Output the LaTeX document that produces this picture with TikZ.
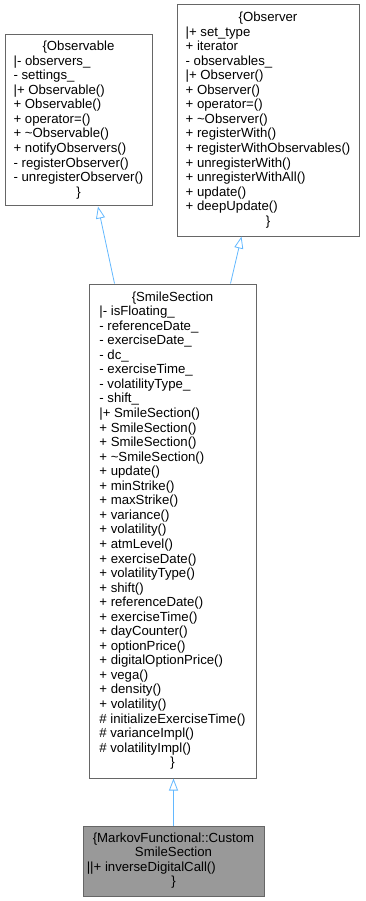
\documentclass[tikz,border=0pt]{standalone}
\usepackage{fontspec}
\setmainfont{Liberation Sans}
\usetikzlibrary{arrows.meta, positioning}
\definecolor{boxgray}{HTML}{666666}
\definecolor{basefill}{HTML}{999999}
\definecolor{linkblue}{HTML}{63B8FF}
\newcommand{\ctr}[1]{\multicolumn{1}{c}{#1}}

\begin{document}
\begin{tikzpicture}[
  x=1pt, y=-1pt,
  every node/.style={font=\fontsize{13.2}{14.55}\selectfont},
  cls/.style={draw=boxgray, fill=white, line width=1pt, inner sep=0pt},
  base/.style={cls, fill=basefill},
  arrow/.style={-{Triangle[open, length=12pt, width=9pt]}, color=linkblue, line width=0.8pt}
]
  \useasboundingbox (0,0) rectangle (365,901);

  % Basisklassen
  \node[cls, minimum width=147pt, minimum height=171pt] (observable) at (78.5,120.5) {\begin{tabular}{@{}l@{}}
    \ctr{\{Observable}\\
    |- observers\_\\
    - settings\_\\
    |+ Observable()\\
    + Observable()\\
    + operator=()\\
    + \textasciitilde Observable()\\
    + notifyObservers()\\
    - registerObserver()\\
    - unregisterObserver()\\
    \ctr{\}}
  \end{tabular}};
  \node[cls, minimum width=182pt, minimum height=231pt] (observer) at (268,120.5) {\begin{tabular}{@{}l@{}}
    \ctr{\{Observer}\\
    |+ set\_type\\
    + iterator\\
    - observables\_\\
    |+ Observer()\\
    + Observer()\\
    + operator=()\\
    + \textasciitilde Observer()\\
    + registerWith()\\
    + registerWithObservables()\\
    + unregisterWith()\\
    + unregisterWithAll()\\
    + update()\\
    + deepUpdate()\\
    \ctr{\}}
  \end{tabular}};

  % SmileSection
  \node[cls, minimum width=167pt, minimum height=494pt] (smile) at (172.5,531) {\begin{tabular}{@{}l@{}}
    \ctr{\{SmileSection}\\
    |- isFloating\_\\
    - referenceDate\_\\
    - exerciseDate\_\\
    - dc\_\\
    - exerciseTime\_\\
    - volatilityType\_\\
    - shift\_\\
    |+ SmileSection()\\
    + SmileSection()\\
    + SmileSection()\\
    + \textasciitilde SmileSection()\\
    + update()\\
    + minStrike()\\
    + maxStrike()\\
    + variance()\\
    + volatility()\\
    + atmLevel()\\
    + exerciseDate()\\
    + volatilityType()\\
    + shift()\\
    + referenceDate()\\
    + exerciseTime()\\
    + dayCounter()\\
    + optionPrice()\\
    + digitalOptionPrice()\\
    + vega()\\
    + density()\\
    + volatility()\\
    \# initializeExerciseTime()\\
    \# varianceImpl()\\
    \# volatilityImpl()\\
    \ctr{\}}
  \end{tabular}};

  % abgeleitete Klasse
  \node[base, minimum width=181pt, minimum height=70pt] (custom) at (173.5,861) {\begin{tabular}{@{}l@{}}
    \ctr{\{MarkovFunctional::Custom}\\
    \ctr{SmileSection}\\
    ||+ inverseDigitalCall()\\
    \ctr{\}}
  \end{tabular}};

  \draw[arrow] ([xshift=26pt]smile.north west) -- ([xshift=93.5pt]observable.south west);
  \draw[arrow] ([xshift=-26pt]smile.north east) -- ([xshift=-118pt]observer.south east);
  \draw[arrow] (custom.north) -- (custom.north |- smile.south);

\end{tikzpicture}
\end{document}
